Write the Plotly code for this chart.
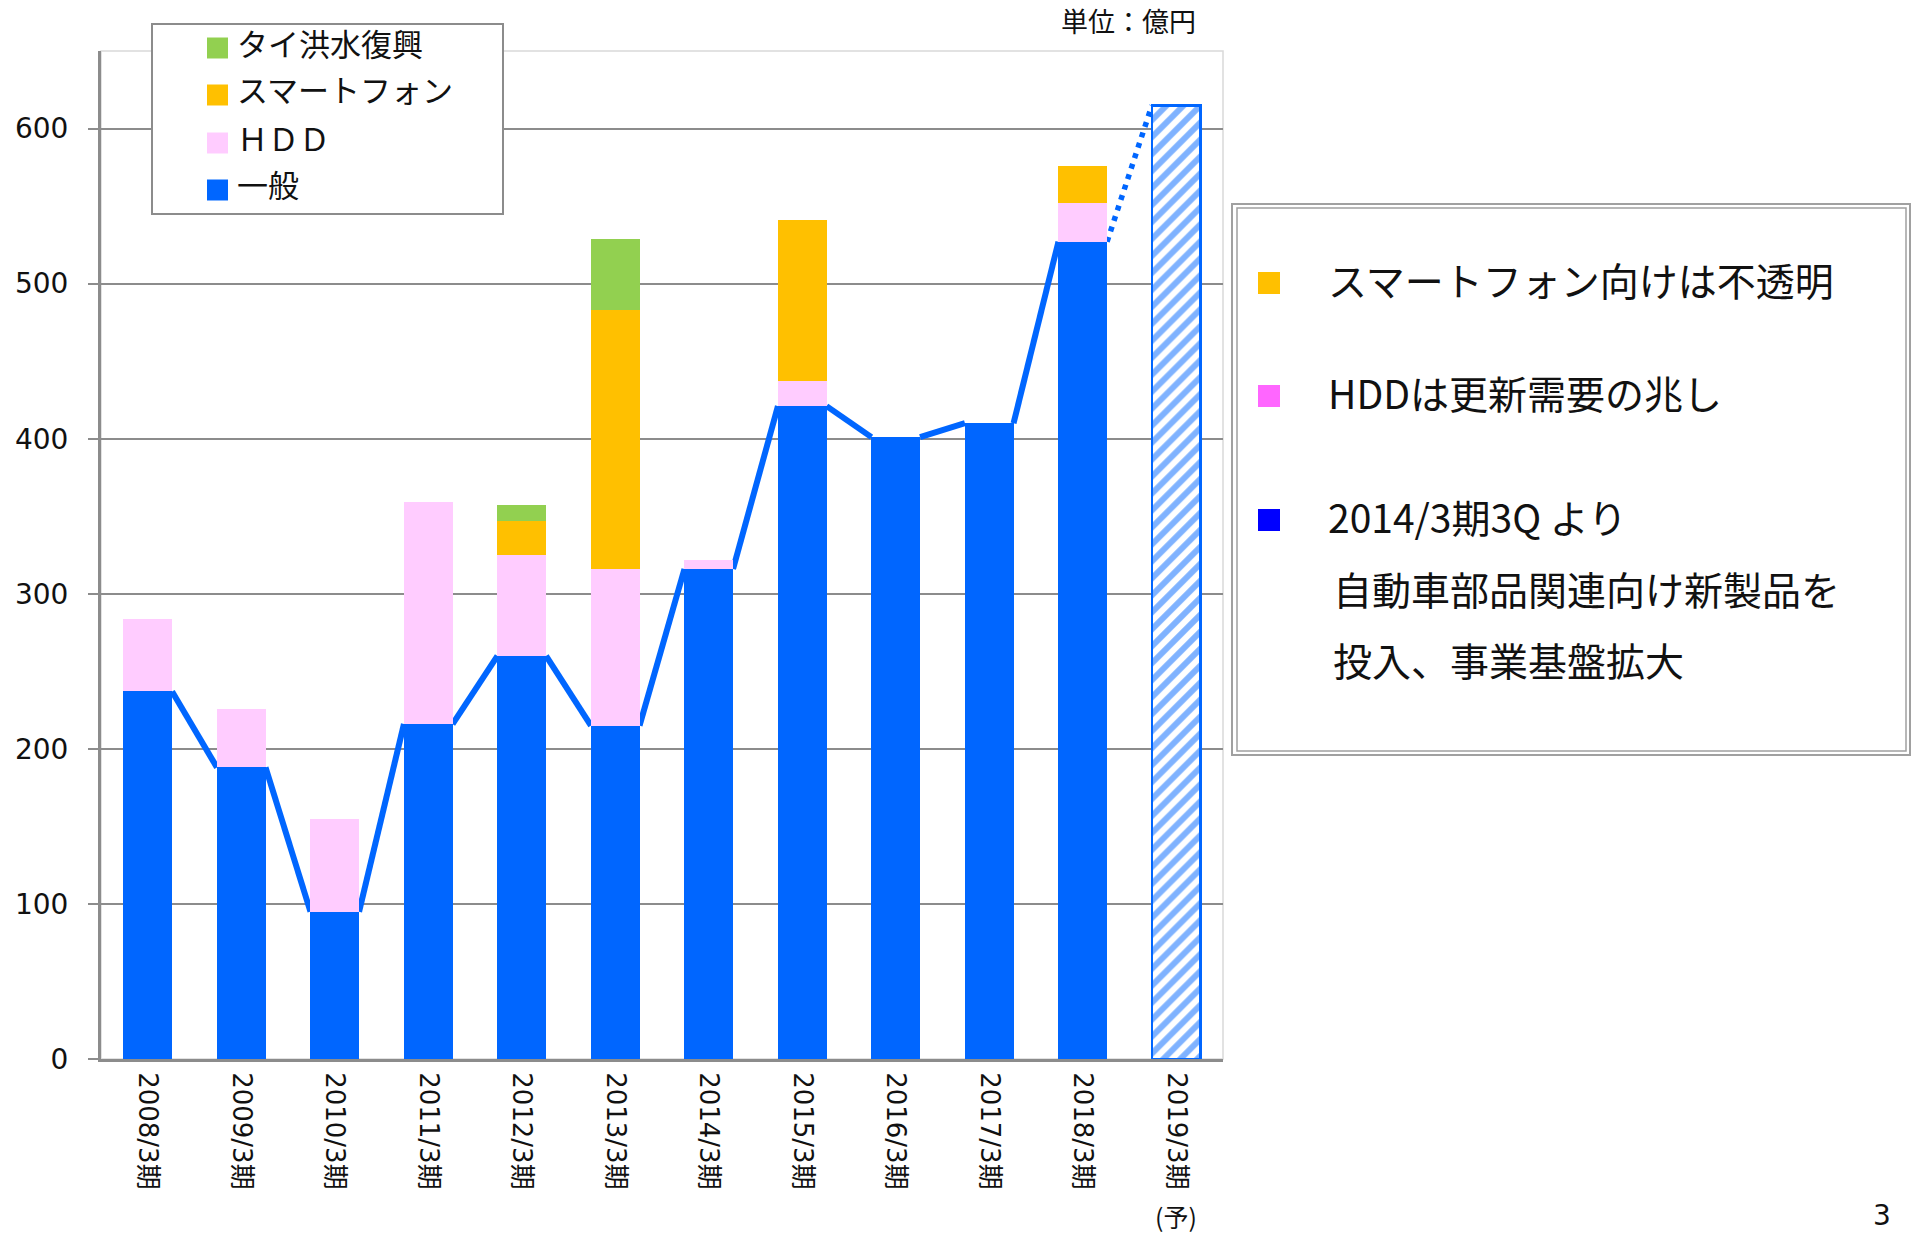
import plotly.graph_objects as go

# ---------------- data ----------------
categories = ["2008/3期", "2009/3期", "2010/3期", "2011/3期", "2012/3期", "2013/3期",
              "2014/3期", "2015/3期", "2016/3期", "2017/3期", "2018/3期", "2019/3期"]
general    = [237, 188, 95, 216, 260, 215, 316, 421, 401, 410, 527, None]
hdd        = [47, 38, 60, 143, 65, 101, 6, 16, None, None, 25, None]
smartphone = [None, None, None, None, 22, 167, None, 104, None, None, 24, None]
thai_flood = [None, None, None, None, 10, 46, None, None, None, None, None, None]
forecast   = [None, None, None, None, None, None, None, None, None, None, None, 615]

series_names = {"general": "一般", "hdd": "ＨＤＤ", "smart": "スマートフォン", "thai": "タイ洪水復興"}
legend_order = ["thai", "smart", "hdd", "general"]
unit_label = "単位：億円"
forecast_note = "(予)"
page_number = "3"
box_lines = ["スマートフォン向けは不透明", "HDDは更新需要の兆し", "2014/3期3Q より",
             "自動車部品関連向け新製品を", "投入、事業基盤拡大"]
y_ticks = [0, 100, 200, 300, 400, 500, 600]

# ---------------- style ----------------
W, H = 1917, 1235
L, R, T, B = 101, 694, 51, 176
PW, PH = W - L - R, H - T - B
BLUE, PINK, ORANGE, GREEN = "#0066FF", "#FFCCFF", "#FFC000", "#92D050"
colors = {"general": BLUE, "hdd": PINK, "smart": ORANGE, "thai": GREEN}
GRID = "#8C8C8C"
LATIN = "DejaVu Sans, Noto Sans CJK JP"
CJK = "Noto Sans CJK JP, DejaVu Sans"
BAR_W = 0.52


def px_x(px):
    return (px - L) / PW


def px_y(py):
    return (H - B - py) / PH


xs = list(range(len(categories)))

fig = go.Figure()

# connecting line between blue bars (main axes -> drawn below the bars)
lx, ly = [], []
for i in range(len(general) - 1):
    if general[i] is not None and general[i + 1] is not None:
        lx += [xs[i] + BAR_W / 2, xs[i + 1] - BAR_W / 2, None]
        ly += [general[i], general[i + 1], None]
fig.add_trace(go.Scatter(x=lx, y=ly, mode="lines", line=dict(color=BLUE, width=6),
                         showlegend=False, hoverinfo="skip"))
# dotted line to the forecast bar
fig.add_trace(go.Scatter(x=[xs[10] + BAR_W / 2, xs[11] - BAR_W / 2], y=[general[10], forecast[11]],
                         mode="lines", line=dict(color=BLUE, width=5.5, dash="5px,6px"),
                         showlegend=False, hoverinfo="skip"))

# stacked bars on an overlaying subplot so they sit above the line
bar_specs = [("general", general), ("hdd", hdd), ("smart", smartphone), ("thai", thai_flood)]
for key, vals in bar_specs:
    fig.add_trace(go.Bar(x=xs, y=vals, name=series_names[key],
                         marker=dict(color=colors[key], line=dict(width=0)),
                         width=BAR_W, xaxis="x2", yaxis="y2", showlegend=False))
fig.add_trace(go.Bar(x=xs, y=forecast, name="予想", showlegend=False, width=BAR_W,
                     xaxis="x2", yaxis="y2",
                     marker=dict(color="white", line=dict(color=BLUE, width=2.5),
                                 pattern=dict(shape="/", fgcolor=BLUE, bgcolor="white",
                                              size=12, solidity=0.5))))

shapes = [
    # plot border (light)
    dict(type="rect", xref="paper", yref="paper", x0=0, x1=1, y0=0, y1=1,
         line=dict(color="#D9D9D9", width=1.5), layer="below"),
    # legend box
    dict(type="rect", xref="paper", yref="paper", x0=px_x(152), x1=px_x(503), y0=px_y(214), y1=px_y(24),
         line=dict(color="#8C8C8C", width=2), fillcolor="white", layer="above"),
    # right comment box (double border)
    dict(type="rect", xref="paper", yref="paper", x0=px_x(1232), x1=px_x(1910), y0=px_y(755), y1=px_y(204),
         line=dict(color="#A0A0A0", width=2), fillcolor="white", layer="above"),
    dict(type="rect", xref="paper", yref="paper", x0=px_x(1237), x1=px_x(1906), y0=px_y(751), y1=px_y(208),
         line=dict(color="#A0A0A0", width=1.5), layer="above"),
]
annotations = []

# legend entries (swatch + label)
legend_rows = [48, 95, 143, 190]
for key, cy in zip(legend_order, legend_rows):
    shapes.append(dict(type="rect", xref="paper", yref="paper", x0=px_x(207), x1=px_x(228),
                       y0=px_y(cy + 10.5), y1=px_y(cy - 10.5), line=dict(width=0),
                       fillcolor=colors[key], layer="above"))
    annotations.append(dict(text=series_names[key], xref="paper", yref="paper", x=px_x(235), y=px_y(cy - 6),
                            showarrow=False, xanchor="left", yanchor="middle",
                            font=dict(family=CJK, size=31, color="#111")))

# squares in the comment box
for (top, col) in [(272, ORANGE), (385, "#FF66FF"), (509, "#0000FF")]:
    shapes.append(dict(type="rect", xref="paper", yref="paper", x0=px_x(1258), x1=px_x(1280),
                       y0=px_y(top + 22), y1=px_y(top), line=dict(width=0), fillcolor=col, layer="above"))

annotations += [
    dict(text=unit_label, xref="paper", yref="paper", x=px_x(1128), y=px_y(20), showarrow=False,
         font=dict(family=CJK, size=27, color="#111"), xanchor="center", yanchor="middle"),
    dict(text=forecast_note, xref="x", yref="paper", x=xs[11], y=px_y(1216), showarrow=False,
         font=dict(family=CJK, size=25, color="#111"), xanchor="center", yanchor="middle"),
    dict(text=page_number, xref="paper", yref="paper", x=px_x(1882), y=px_y(1234), showarrow=False,
         font=dict(family=LATIN, size=28, color="#111"), xanchor="center", yanchor="bottom"),
]
box_pos = [(1326, 279), (1326, 392), (1326, 516), (1331, 588), (1331, 659)]
for txt, (bx, by) in zip(box_lines, box_pos):
    annotations.append(dict(text=txt, xref="paper", yref="paper", x=px_x(bx), y=px_y(by), showarrow=False,
                            font=dict(family=CJK, size=39, color="#111"), xanchor="left", yanchor="middle"))

fig.update_layout(
    width=W, height=H, autosize=False,
    margin=dict(l=L, r=R, t=T, b=B, pad=0),
    paper_bgcolor="white", plot_bgcolor="white",
    barmode="stack",
    font=dict(family=LATIN, color="#111"),
    xaxis=dict(range=[-0.5, 11.5], tickvals=xs, ticktext=categories, tickangle=90,
               showline=True, linecolor="#8C8C8C", linewidth=3, showgrid=False, zeroline=False,
               ticks="", tickfont=dict(family=LATIN, size=26, color="#111"), ticklabelstandoff=5),
    yaxis=dict(range=[0, 650], tickvals=y_ticks, showline=True, linecolor="#8C8C8C", linewidth=3,
               showgrid=True, gridcolor=GRID, gridwidth=2, zeroline=False,
               ticks="outside", ticklen=10, tickcolor="#8C8C8C", tickwidth=2,
               tickfont=dict(family=LATIN, size=28, color="#111"), ticklabelstandoff=14),
    xaxis2=dict(range=[-0.5, 11.5], overlaying="x", visible=False),
    yaxis2=dict(range=[0, 650], overlaying="y", visible=False),
    shapes=shapes, annotations=annotations,
    showlegend=False,
)

fig.write_html("out.html", config={"displayModeBar": False},
               post_script="document.body.style.margin='0';document.body.style.overflow='hidden';")
